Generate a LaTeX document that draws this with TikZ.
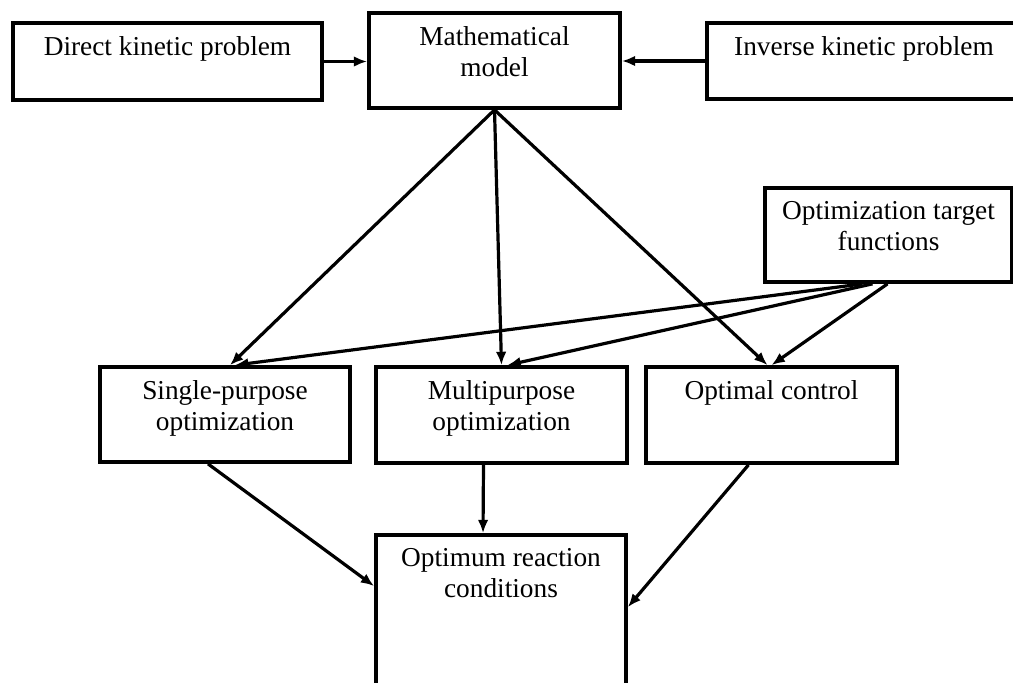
\documentclass[tikz,border=0pt]{standalone}
\usepackage{fontspec}
\setmainfont{Liberation Serif}
\usepackage{tikz}
\usetikzlibrary{arrows.meta}
\usetikzlibrary{calc}

\newcommand{\boxlabel}[3]{\parbox[c][#2][t]{#1}{\centering\vspace*{10pt}#3}}

\begin{document}
\begin{tikzpicture}[x=0.75pt, y=-0.75pt,
    block/.style={draw=black, line width=2.8pt, inner sep=0pt, fill=white,
      font=\fontsize{20.5}{23.3}\selectfont},
    link/.style={line width=2.4pt, -{Latex[length=10pt,width=8pt]}}]
    \useasboundingbox (0,0) rectangle (1013,682);
    \node[block] (direct) at (167.5,61.5) {\boxlabel{231.75pt}{57.75pt}{Direct kinetic problem}};
    \node[block] (math) at (494.5,60.5) {\boxlabel{188.25pt}{71.25pt}{Mathematical\\model}};
    \node[block] (inverse) at (864,61) {\boxlabel{235.5pt}{57pt}{Inverse kinetic problem}};
    \node[block] (target) at (888.5,235) {\boxlabel{185.25pt}{70.5pt}{Optimization target\\functions}};
    \node[block] (single) at (225,414.5) {\boxlabel{187.5pt}{71.25pt}{Single-purpose\\optimization}};
    \node[block] (multi) at (501.5,415) {\boxlabel{188.25pt}{72pt}{Multipurpose\\optimization}};
    \node[block] (optimal) at (771.5,415) {\boxlabel{188.25pt}{72pt}{Optimal control}};
    \node[block] (optimum) at (501,620) {\boxlabel{187.5pt}{127.5pt}{Optimum reaction\\conditions}};

    \draw[link] (direct.east) -- (direct.east -| math.west);
    \draw[link] (inverse.west) -- (inverse.west -| math.east);
    \draw[link] (math.south) -- ($(single.north)+(5,0)$);
    \draw[link] (math.south) -- (multi.north);
    \draw[link] (math.south) -- ($(optimal.north)+(-4,0)$);
    \draw[link] ($(target.south)+(-26,0)$) -- ($(single.north)+(10,0)$);
    \draw[link] ($(target.south)+(-16,0)$) -- ($(multi.north)+(6,0)$);
    \draw[link] ($(target.south)+(-1,0)$) -- (optimal.north);
    \draw[link] ($(single.south)+(-17,0)$) -- ($(optimum.north west)+(0,53)$);
    \draw[link] ($(multi.south)+(-18,0)$) -- ($(optimum.north)+(-18,0)$);
    \draw[link] ($(optimal.south)+(-23,0)$) -- ($(optimum.north east)+(0,74)$);
  \end{tikzpicture}
\end{document}
